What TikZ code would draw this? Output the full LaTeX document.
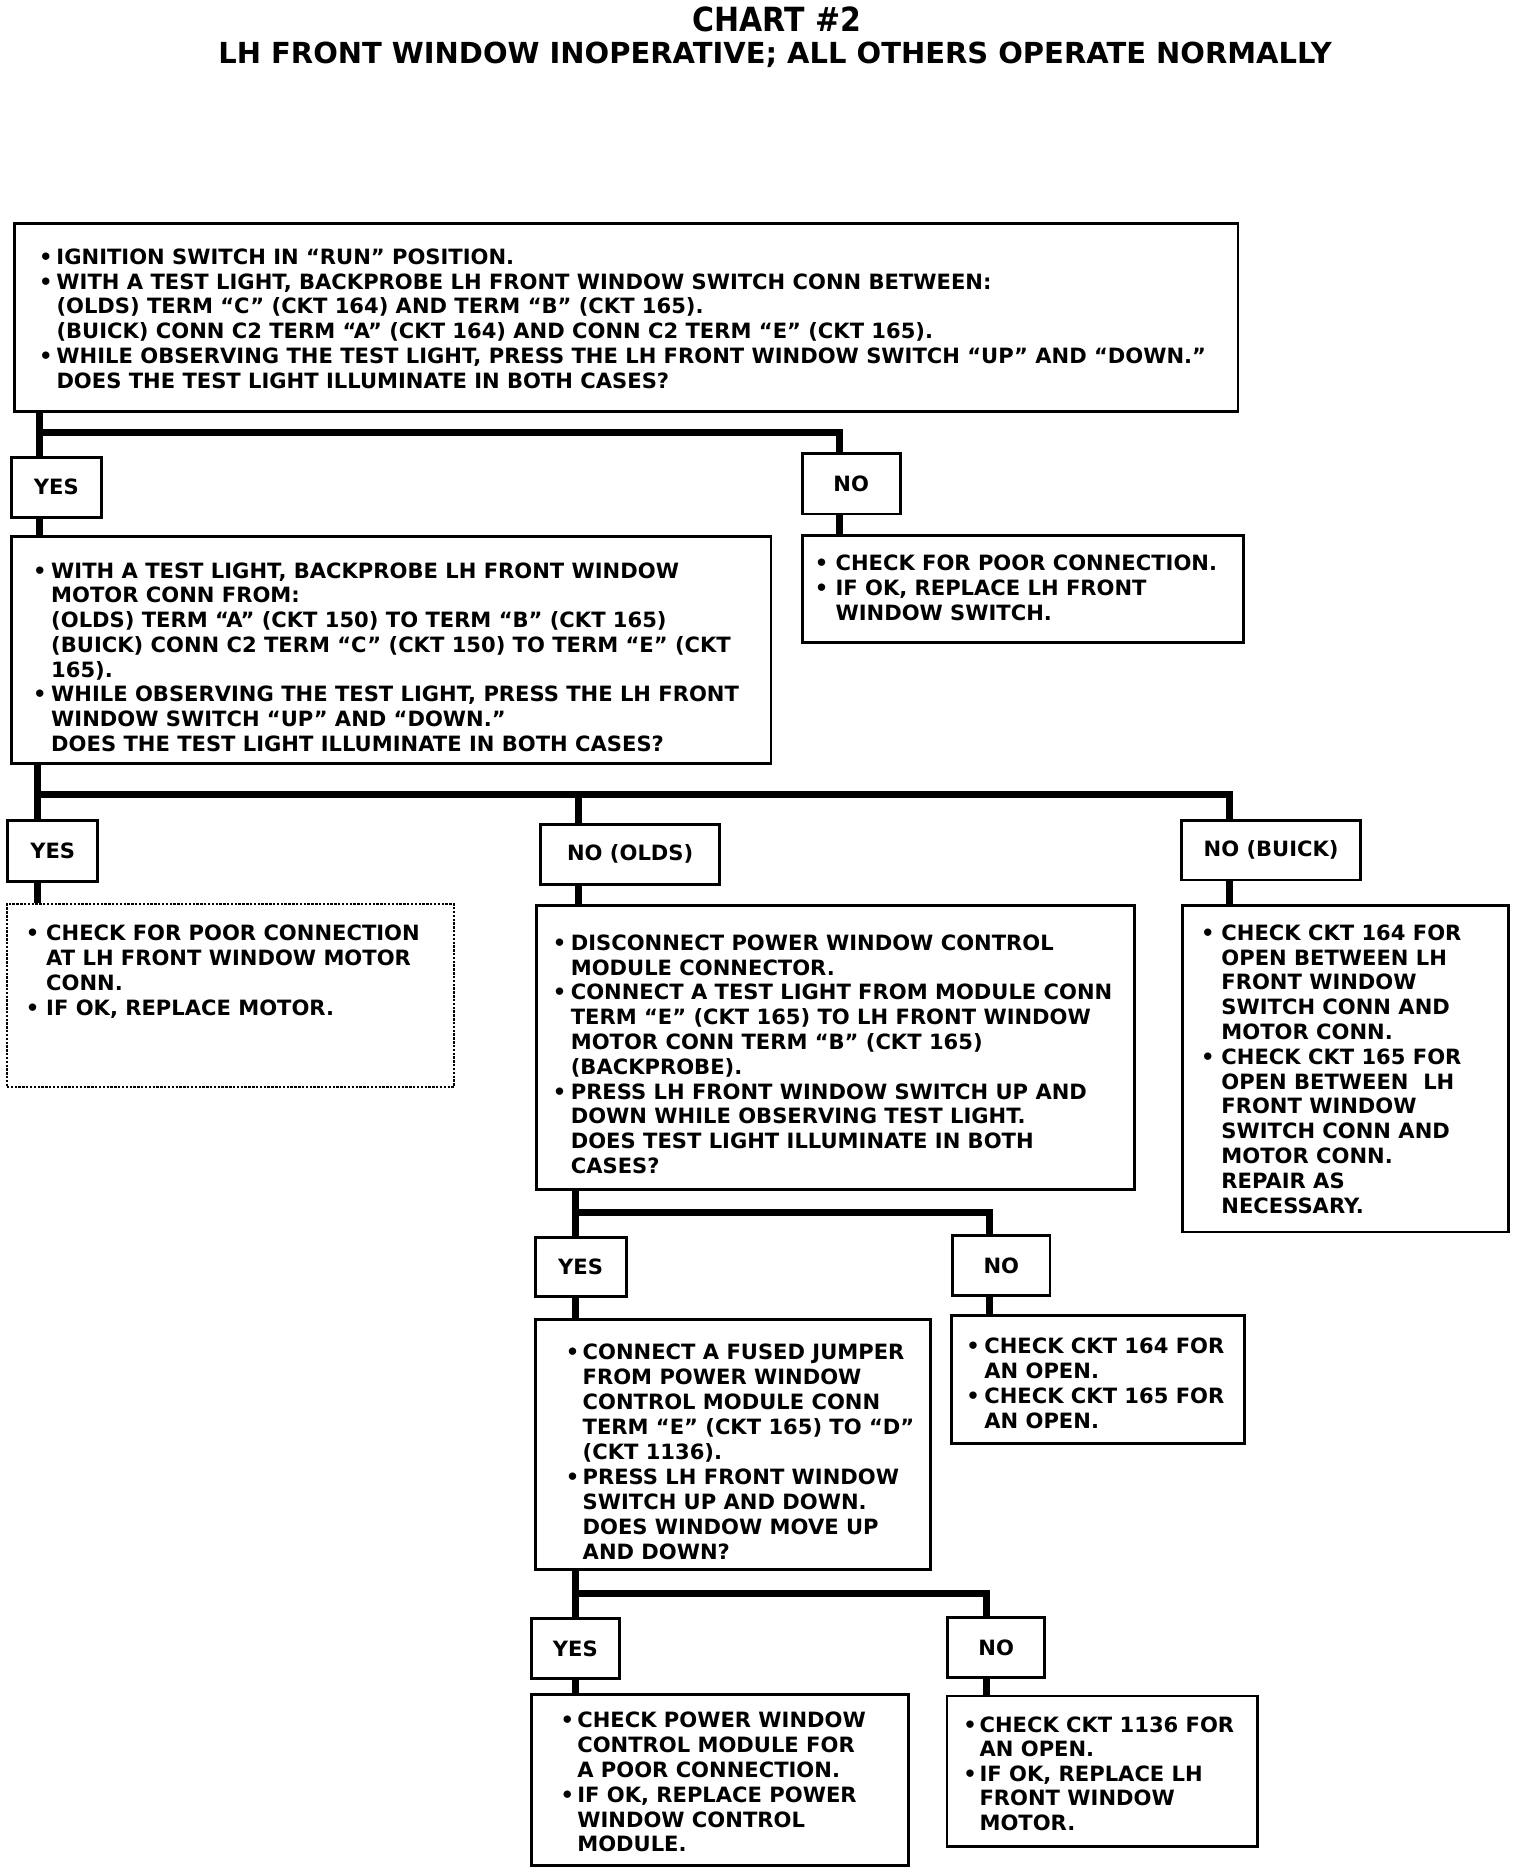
\documentclass[tikz,border=0pt]{standalone}
\usepackage{fontspec}
\setmainfont{DejaVu Sans}
\newfontfamily\titlef{DejaVu Sans}[FakeStretch=0.9]
\usetikzlibrary{calc}
\newlength{\bw}
\newcommand{\bu}{\makebox[\bw][l]{•}}
\newcommand{\ct}{\hspace*{\bw}}
\tikzset{
 box/.style={draw=black, line width=2.4pt, inner sep=0pt, rectangle},
 dbox/.style={draw=black, line width=2pt, dash pattern=on 2pt off 1.2pt, inner sep=0pt, rectangle},
 lbl/.style={font=\bfseries\fontsize{17.6}{20.7}\selectfont},
 txt/.style={inner sep=0pt, anchor=base west, font=\bfseries\fontsize{17.6}{20.7}\selectfont},
 conn/.style={line width=5.8pt, line cap=butt, line join=miter},
}
\begin{document}
\begin{tikzpicture}[x=1pt,y=-1pt]
\fill[white] (0,0) rectangle (1283,1565.3);
\useasboundingbox (0,0) rectangle (1283,1565.3);

% titles
\node[inner sep=0pt, anchor=base, font=\titlef\bfseries\fontsize{27.8}{30}\selectfont] (title) at (649,26.5) {CHART \#2};
\node[inner sep=0pt, anchor=base, font=\bfseries\fontsize{24.2}{28}\selectfont] (subtitle) at (647.5,53) {LH FRONT WINDOW INOPERATIVE; ALL OTHERS OPERATE NORMALLY};

% boxes
\node[box, minimum width=1021.6pt, minimum height=157pt] (b1) at (523.2,265.5) {};
\node[box, lbl, minimum width=75pt, minimum height=50pt] (yes1) at (47,407) {YES};
\node[box, lbl, minimum width=82pt, minimum height=50.7pt] (no1) at (711,404) {NO};
\node[box, minimum width=634.6pt, minimum height=190pt] (b2) at (326.7,543) {};
\node[box, minimum width=369pt, minimum height=90pt] (b3) at (854.5,492) {};
\node[box, lbl, minimum width=75.2pt, minimum height=51pt] (yes2) at (44,710.5) {YES};
\node[box, lbl, minimum width=149.3pt, minimum height=49.9pt] (noolds) at (526.35,713.55) {NO (OLDS)};
\node[box, lbl, minimum width=150pt, minimum height=49.4pt] (nobuick) at (1061.7,710.3) {NO (BUICK)};
\node[dbox, minimum width=373.2pt, minimum height=153pt] (b4) at (192.4,831.5) {};
\node[box, minimum width=499.7pt, minimum height=237.6pt] (b5) at (697.85,874.8) {};
\node[box, minimum width=272.3pt, minimum height=273pt] (b6) at (1123.85,892.5) {};
\node[box, lbl, minimum width=76pt, minimum height=49pt] (yes3) at (485,1058.5) {YES};
\node[box, lbl, minimum width=81.2pt, minimum height=50pt] (no3) at (836.4,1057) {NO};
\node[box, minimum width=330pt, minimum height=209pt] (b7) at (612,1206.5) {};
\node[box, minimum width=245.1pt, minimum height=107pt] (b8) at (917.15,1152.5) {};
\node[box, lbl, minimum width=73.9pt, minimum height=50pt] (yes4) at (480.55,1377) {YES};
\node[box, lbl, minimum width=81pt, minimum height=50pt] (no4) at (832.1,1376) {NO};
\node[box, minimum width=315pt, minimum height=143pt] (b9) at (601.1,1486.5) {};
\node[box, minimum width=259pt, minimum height=125.4pt] (b10) at (920.5,1479.3) {};

% texts
\node[txt] (t1) at (32.5,220.8) {\setlength{\bw}{14.5pt}\begin{tabular}[t]{@{}l@{}}
\bu IGNITION SWITCH IN “RUN” POSITION.\\
\bu WITH A TEST LIGHT, BACKPROBE LH FRONT WINDOW SWITCH CONN BETWEEN:\\
\ct (OLDS) TERM “C” (CKT 164) AND TERM “B” (CKT 165).\\
\ct (BUICK) CONN C2 TERM “A” (CKT 164) AND CONN C2 TERM “E” (CKT 165).\\
\bu WHILE OBSERVING THE TEST LIGHT, PRESS THE LH FRONT WINDOW SWITCH “UP” AND “DOWN.”\\
\ct DOES THE TEST LIGHT ILLUMINATE IN BOTH CASES?
\end{tabular}};

\node[txt] (t2) at (27.5,482.8) {\setlength{\bw}{15.1pt}\begin{tabular}[t]{@{}l@{}}
\bu WITH A TEST LIGHT, BACKPROBE LH FRONT WINDOW\\
\ct MOTOR CONN FROM:\\
\ct (OLDS) TERM “A” (CKT 150) TO TERM “B” (CKT 165)\\
\ct (BUICK) CONN C2 TERM “C” (CKT 150) TO TERM “E” (CKT\\
\ct 165).\\
\bu WHILE OBSERVING THE TEST LIGHT, PRESS THE LH FRONT\\
\ct WINDOW SWITCH “UP” AND “DOWN.”\\
\ct DOES THE TEST LIGHT ILLUMINATE IN BOTH CASES?
\end{tabular}};

\node[txt] (t3) at (680.5,476.9) {\setlength{\bw}{17.2pt}\begin{tabular}[t]{@{}l@{}}
\bu CHECK FOR POOR CONNECTION.\\
\bu IF OK, REPLACE LH FRONT\\
\ct WINDOW SWITCH.
\end{tabular}};

\node[txt] (t4) at (21.5,785.8) {\setlength{\bw}{16.9pt}\begin{tabular}[t]{@{}l@{}}
\bu CHECK FOR POOR CONNECTION\\
\ct AT LH FRONT WINDOW MOTOR\\
\ct CONN.\\
\bu IF OK, REPLACE MOTOR.
\end{tabular}};

\node[txt] (t5) at (461.5,793.8) {\setlength{\bw}{15.1pt}\begin{tabular}[t]{@{}l@{}}
\bu DISCONNECT POWER WINDOW CONTROL\\
\ct MODULE CONNECTOR.\\
\bu CONNECT A TEST LIGHT FROM MODULE CONN\\
\ct TERM “E” (CKT 165) TO LH FRONT WINDOW\\
\ct MOTOR CONN TERM “B” (CKT 165)\\
\ct (BACKPROBE).\\
\bu PRESS LH FRONT WINDOW SWITCH UP AND\\
\ct DOWN WHILE OBSERVING TEST LIGHT.\\
\ct DOES TEST LIGHT ILLUMINATE IN BOTH\\
\ct CASES?
\end{tabular}};

\node[txt] (t6) at (1003.1,785.5) {\setlength{\bw}{16.9pt}\begin{tabular}[t]{@{}l@{}}
\bu CHECK CKT 164 FOR\\
\ct OPEN BETWEEN LH\\
\ct FRONT WINDOW\\
\ct SWITCH CONN AND\\
\ct MOTOR CONN.\\
\bu CHECK CKT 165 FOR\\
\ct OPEN BETWEEN \ LH\\
\ct FRONT WINDOW\\
\ct SWITCH CONN AND\\
\ct MOTOR CONN.\\
\ct REPAIR AS\\
\ct NECESSARY.
\end{tabular}};

\node[txt] (t7) at (472.5,1135.8) {\setlength{\bw}{14pt}\fontsize{17.6}{20.9}\selectfont\begin{tabular}[t]{@{}l@{}}
\bu CONNECT A FUSED JUMPER\\
\ct FROM POWER WINDOW\\
\ct CONTROL MODULE CONN\\
\ct TERM “E” (CKT 165) TO “D”\\
\ct (CKT 1136).\\
\bu PRESS LH FRONT WINDOW\\
\ct SWITCH UP AND DOWN.\\
\ct DOES WINDOW MOVE UP\\
\ct AND DOWN?
\end{tabular}};

\node[txt] (t8) at (807,1130.8) {\setlength{\bw}{15pt}\begin{tabular}[t]{@{}l@{}}
\bu CHECK CKT 164 FOR\\
\ct AN OPEN.\\
\bu CHECK CKT 165 FOR\\
\ct AN OPEN.
\end{tabular}};

\node[txt] (t9) at (468,1443.3) {\setlength{\bw}{14pt}\begin{tabular}[t]{@{}l@{}}
\bu CHECK POWER WINDOW\\
\ct CONTROL MODULE FOR\\
\ct A POOR CONNECTION.\\
\bu IF OK, REPLACE POWER\\
\ct WINDOW CONTROL\\
\ct MODULE.
\end{tabular}};

\node[txt] (t10) at (804.5,1447) {\setlength{\bw}{13.5pt}\fontsize{17.6}{20.4}\selectfont\begin{tabular}[t]{@{}l@{}}
\bu CHECK CKT 1136 FOR\\
\ct AN OPEN.\\
\bu IF OK, REPLACE LH\\
\ct FRONT WINDOW\\
\ct MOTOR.
\end{tabular}};

% junction coordinates
\coordinate (d1) at (33,361);
\coordinate (d1r) at (701,361);
\coordinate (d2) at (31.5,664);
\coordinate (d2m) at (483,664);
\coordinate (d2r) at (1027,664);
\coordinate (d3) at (480.5,1013);
\coordinate (d3r) at (826.5,1013);
\coordinate (d4) at (480.5,1330.6);
\coordinate (d4r) at (824,1330.6);

% connectors
\draw[conn] (b1.south -| d1) -- (yes1.north -| d1);
\draw[conn] (d1) -- (d1r) -- (no1.north -| d1r);
\draw[conn] (yes1.south -| d1) -- (b2.north -| d1);
\draw[conn] (no1.south -| d1r) -- (b3.north -| d1r);

\draw[conn] (b2.south -| d2) -- (yes2.north -| d2);
\draw[conn] (d2) -- (d2r) -- (nobuick.north -| d2r);
\draw[conn] (d2m) -- (noolds.north -| d2m);
\draw[conn] (yes2.south -| d2) -- (b4.north -| d2);
\draw[conn] (noolds.south -| d2m) -- (b5.north -| d2m);
\draw[conn] (nobuick.south -| d2r) -- (b6.north -| d2r);

\draw[conn] (b5.south -| d3) -- (yes3.north -| d3);
\draw[conn] (d3) -- (d3r) -- (no3.north -| d3r);
\draw[conn] (yes3.south -| d3) -- (b7.north -| d3);
\draw[conn] (no3.south -| d3r) -- (b8.north -| d3r);

\draw[conn] (b7.south -| d4) -- (yes4.north -| d4);
\draw[conn] (d4) -- (d4r) -- (no4.north -| d4r);
\draw[conn] (yes4.south -| d4) -- (b9.north -| d4);
\draw[conn] (no4.south -| d4r) -- (b10.north -| d4r);
\end{tikzpicture}
\end{document}
